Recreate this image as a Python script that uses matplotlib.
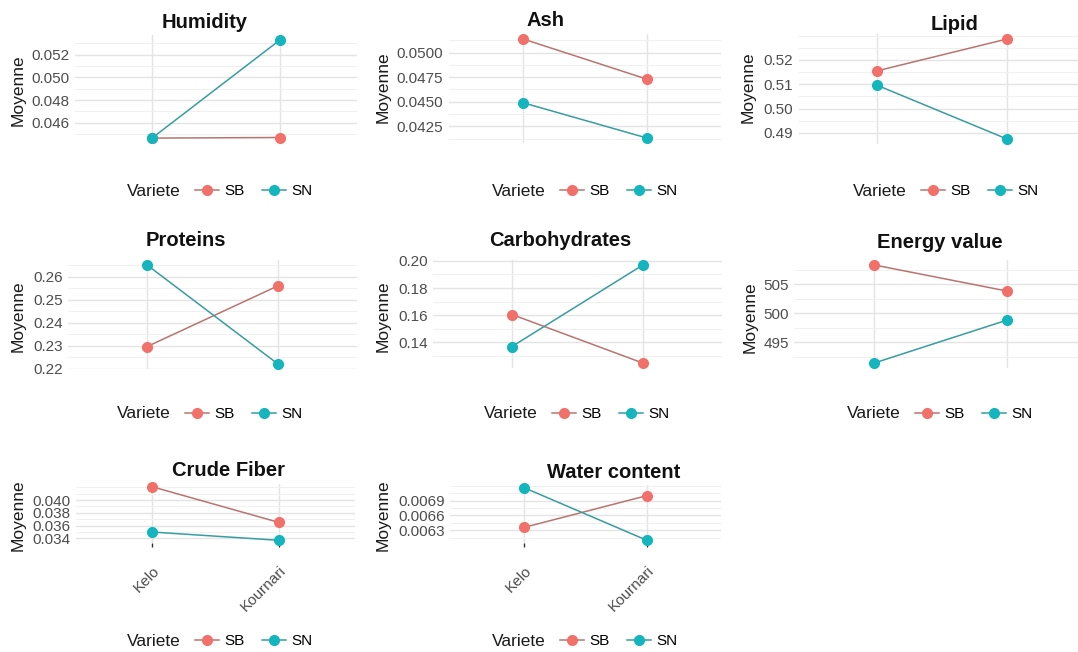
import matplotlib
matplotlib.use("Agg")
import matplotlib.pyplot as plt
from matplotlib.ticker import FixedLocator, AutoMinorLocator, FormatStrFormatter
from matplotlib.lines import Line2D

plt.rcParams['font.family'] = ['Liberation Sans', 'DejaVu Sans']

# ---------------- data ----------------
varieties = ["Kelo", "Kournari"]
series_names = ["SB", "SN"]
legend_title = "Variete"
ylabel = "Moyenne"

humidity_sb = [0.04465, 0.0447]
humidity_sn = [0.04465, 0.0533]
humidity_ticks = [0.046, 0.048, 0.050, 0.052]

ash_sb = [0.0514, 0.0473]
ash_sn = [0.0449, 0.0413]
ash_ticks = [0.0425, 0.0450, 0.0475, 0.0500]

lipid_sb = [0.5155, 0.5286]
lipid_sn = [0.5096, 0.4875]
lipid_ticks = [0.49, 0.50, 0.51, 0.52]

proteins_sb = [0.2296, 0.2561]
proteins_sn = [0.2652, 0.2220]
proteins_ticks = [0.22, 0.23, 0.24, 0.25, 0.26]

carbo_sb = [0.1605, 0.1248]
carbo_sn = [0.137, 0.197]
carbo_ticks = [0.14, 0.16, 0.18, 0.20]

energy_sb = [508.3, 503.8]
energy_sn = [491.4, 498.8]
energy_ticks = [495, 500, 505]

fiber_sb = [0.0421, 0.0365]
fiber_sn = [0.0350, 0.0337]
fiber_ticks = [0.034, 0.036, 0.038, 0.040]

water_sb = [0.00636, 0.0070]
water_sn = [0.00716, 0.0061]
water_ticks = [0.0063, 0.0066, 0.0069]

panels = [
    ("Humidity", humidity_sb, humidity_sn, humidity_ticks, "%.3f"),
    ("Ash", ash_sb, ash_sn, ash_ticks, "%.4f"),
    ("Lipid", lipid_sb, lipid_sn, lipid_ticks, "%.2f"),
    ("Proteins", proteins_sb, proteins_sn, proteins_ticks, "%.2f"),
    ("Carbohydrates", carbo_sb, carbo_sn, carbo_ticks, "%.2f"),
    ("Energy value", energy_sb, energy_sn, energy_ticks, "%.0f"),
    ("Crude Fiber", fiber_sb, fiber_sn, fiber_ticks, "%.3f"),
    ("Water content", water_sb, water_sn, water_ticks, "%.4f"),
]

# ---------------- layout (pixels) ----------------
W, H = 1078, 652
layout = [
    dict(tb=(35, 143), xs=(152, 280), title=(205, 22), ylab=(18, 90), leg=(195, 191), xlab=False),
    dict(tb=(34, 143), xs=(523, 647), title=(546, 20), ylab=(383, 87), leg=(560, 191), xlab=False),
    dict(tb=(34, 144), xs=(877, 1007), title=(955, 24), ylab=(748, 87), leg=(921, 191), xlab=False),
    dict(tb=(260, 369), xs=(147, 278), title=(186, 240), ylab=(18, 316), leg=(185, 414), xlab=False),
    dict(tb=(260, 368), xs=(512, 643), title=(560, 240), ylab=(383, 316), leg=(552, 414), xlab=False),
    dict(tb=(260, 368), xs=(874, 1007), title=(940, 242), ylab=(750, 317), leg=(915, 414), xlab=False),
    dict(tb=(484, 543), xs=(152, 279), title=(228, 470), ylab=(18, 515), leg=(195, 641), xlab=True),
    dict(tb=(485, 543), xs=(524, 647), title=(614, 472), ylab=(383, 515), leg=(560, 641), xlab=True),
]

SB_MARK, SN_MARK = '#F2706A', '#14B5BD'
SB_LINE, SN_LINE = '#B8756F', '#379DA1'
GRID_MAJ, GRID_MIN = '#E4E4E4', '#F0F0F0'

fig = plt.figure(figsize=(W / 100, H / 100), dpi=100)
fig.patch.set_facecolor('white')

for (title, sb, sn, ticks, fmt), lay in zip(panels, layout):
    top, bot = lay['tb']
    p1, p2 = lay['xs']
    unit = p2 - p1
    left = p1 - 0.6 * unit
    right = min(p2 + 0.6 * unit, W)
    ax = fig.add_axes([left / W, 1 - bot / H, (right - left) / W, (bot - top) / H])
    xpos = list(range(1, len(varieties) + 1))
    ax.set_xlim(1 + (left - p1) / unit, 1 + (right - p1) / unit)
    lo = min(sb + sn)
    hi = max(sb + sn)
    pad = 0.05 * (hi - lo)
    ax.set_ylim(lo - pad, hi + pad)

    ax.plot(xpos, sb, color=SB_LINE, lw=1.1, marker='o', ms=7,
            mfc=SB_MARK, mec=SB_MARK, zorder=3, clip_on=False)
    ax.plot(xpos, sn, color=SN_LINE, lw=1.1, marker='o', ms=7,
            mfc=SN_MARK, mec=SN_MARK, zorder=3, clip_on=False)

    ax.yaxis.set_major_locator(FixedLocator(ticks))
    ax.yaxis.set_major_formatter(FormatStrFormatter(fmt))
    ax.yaxis.set_minor_locator(AutoMinorLocator(2))
    ax.set_xticks(xpos)
    ax.grid(True, which='major', axis='y', color=GRID_MAJ, lw=1.0)
    ax.grid(True, which='minor', axis='y', color=GRID_MIN, lw=0.7)
    ax.grid(True, which='major', axis='x', color=GRID_MAJ, lw=1.0)
    ax.set_axisbelow(True)
    for s in ax.spines.values():
        s.set_visible(False)
    ax.tick_params(axis='y', which='both', length=0, labelsize=11,
                   labelcolor='#4D4D4D', pad=4)
    if lay['xlab']:
        ax.set_xticklabels(varieties, rotation=45, ha='right',
                           rotation_mode='anchor', fontsize=11, color='#4D4D4D')
        ax.tick_params(axis='x', length=3, width=1, color='#333333', pad=12)
    else:
        ax.set_xticklabels([])
        ax.tick_params(axis='x', length=0)

    fig.text(lay['title'][0] / W, 1 - lay['title'][1] / H, title,
             ha='center', va='center', fontsize=14.5, fontweight='bold', color='#111111')
    fig.text(lay['ylab'][0] / W, 1 - lay['ylab'][1] / H, ylabel, rotation=90,
             ha='center', va='center', fontsize=12.5, color='#1A1A1A')

    lx, ly = lay['leg']
    handles = [
        Line2D([], [], color=SB_LINE, lw=1.1, marker='o', ms=7, mfc=SB_MARK, mec=SB_MARK),
        Line2D([], [], color=SN_LINE, lw=1.1, marker='o', ms=7, mfc=SN_MARK, mec=SN_MARK),
    ]
    fig.legend(handles, series_names, loc='center left',
               bbox_to_anchor=(lx / W, 1 - ly / H), bbox_transform=fig.transFigure,
               ncol=2, frameon=False, fontsize=11, handlelength=1.6,
               handletextpad=0.35, columnspacing=1.1, borderpad=0, borderaxespad=0)
    fig.text((lx - 14) / W, 1 - ly / H, legend_title, ha='right', va='center',
             fontsize=12.5, color='#1A1A1A')

fig.savefig("out.png", dpi=100, facecolor='white')
